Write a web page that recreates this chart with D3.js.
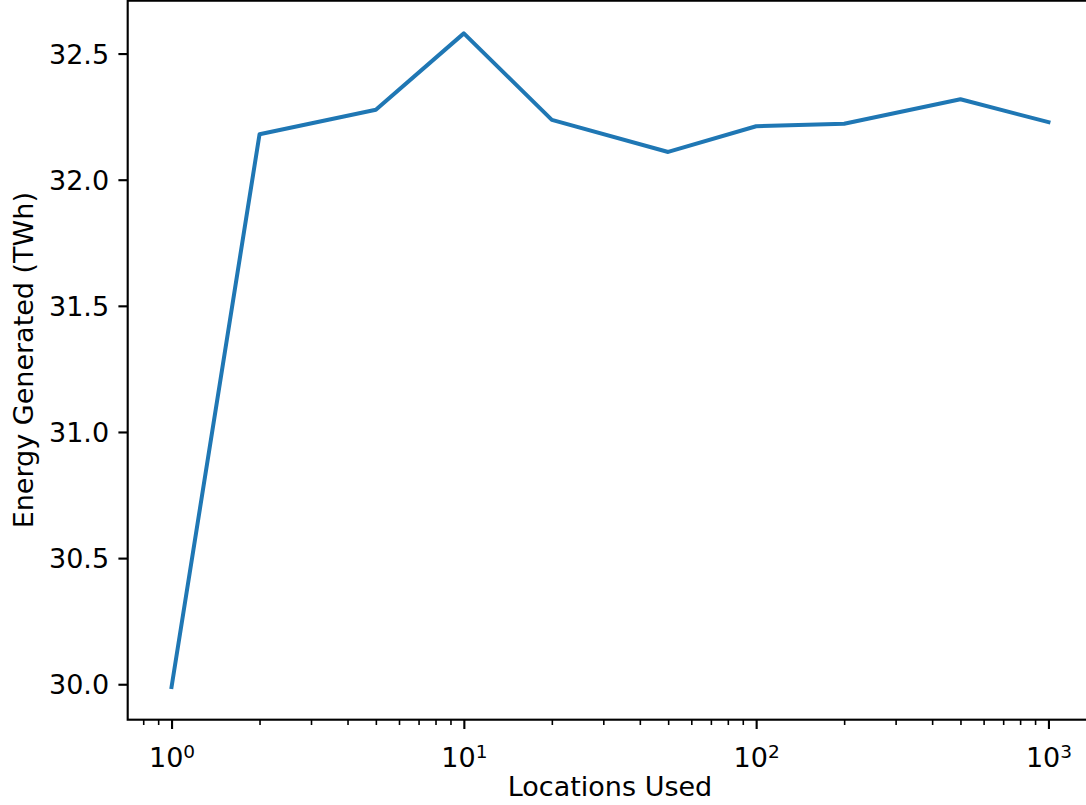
<!DOCTYPE html>
<html>
<head>
<meta charset="utf-8">
<script src="https://cdn.jsdelivr.net/npm/d3@7"></script>
<style>
  html, body { margin: 0; padding: 0; background: #fff; }
  svg { display: block; overflow: hidden; }
  text { font-family: "DejaVu Sans", sans-serif; fill: #000; }
</style>
</head>
<body>
<svg id="chart" width="1086" height="805"></svg>
<script>
// Energy generated as a function of the number of locations used
const locations = [1, 2, 5, 10, 20, 50, 100, 200, 500, 1000];
const energy = [29.989, 32.180, 32.277, 32.580, 32.237, 32.110, 32.212, 32.222, 32.319, 32.228];

const xMajorExponents = [0, 1, 2, 3];
const yTicks = [30.0, 30.5, 31.0, 31.5, 32.0, 32.5];

const xLabel = "Locations Used";
const yLabel = "Energy Generated (TWh)";

// layout (pixels)
const W = 1086, H = 805;
const plot = { left: 127.7, top: 0.7, right: 1092.3, bottom: 719.7 };
const fontSize = 27;
const supSize = 18.5;
const majorLen = 9.3, minorLen = 5.3, pad = 9.3;
const spineW = 2.13, majorW = 2.13, minorW = 1.6;
const lineColor = "#1f77b4";

// 5% margins around the data, as in the usual autoscale
const lx0 = Math.log10(d3.min(locations)), lx1 = Math.log10(d3.max(locations));
const lxm = (lx1 - lx0) * 0.05;
const [ymin, ymax] = d3.extent(energy);
const ym = (ymax - ymin) * 0.05;

const x = d3.scaleLog()
  .domain([Math.pow(10, lx0 - lxm), Math.pow(10, lx1 + lxm)])
  .range([plot.left, plot.right]);
const y = d3.scaleLinear()
  .domain([ymin - ym, ymax + ym])
  .range([plot.bottom, plot.top]);

const svg = d3.select("#chart");

// minor ticks: 2..9 of every decade inside the domain
const [dx0, dx1] = x.domain();
const minors = [];
for (let e = Math.floor(Math.log10(dx0)); e <= Math.ceil(Math.log10(dx1)); e++) {
  for (let m = 2; m <= 9; m++) {
    const v = m * Math.pow(10, e);
    if (v >= dx0 && v <= dx1) minors.push(v);
  }
}
const majors = xMajorExponents.map(e => Math.pow(10, e));

// data line
const line = d3.line()
  .x((d, i) => x(locations[i]))
  .y(d => y(d));
svg.append("path")
  .datum(energy)
  .attr("d", line)
  .attr("fill", "none")
  .attr("stroke", lineColor)
  .attr("stroke-width", 4)
  .attr("stroke-linejoin", "round")
  .attr("stroke-linecap", "square");

// x axis: minor ticks
const gxMinor = svg.append("g")
  .attr("transform", `translate(0,${plot.bottom})`)
  .call(d3.axisBottom(x).tickValues(minors).tickSize(minorLen).tickFormat(""));
gxMinor.select(".domain").remove();
gxMinor.selectAll("line").attr("stroke", "#000").attr("stroke-width", minorW);

// x axis: major ticks with 10^n labels
const gx = svg.append("g")
  .attr("transform", `translate(0,${plot.bottom})`)
  .call(d3.axisBottom(x).tickValues(majors).tickSize(majorLen).tickFormat(""));
gx.select(".domain").remove();
gx.selectAll("line").attr("stroke", "#000").attr("stroke-width", majorW);
gx.selectAll(".tick").each(function (d, i) {
  const t = d3.select(this).append("text")
    .attr("y", majorLen + pad + 29)
    .attr("text-anchor", "middle")
    .attr("font-size", fontSize)
    .attr("fill", "#000");
  t.append("tspan").text("10");
  t.append("tspan")
    .attr("font-size", supSize)
    .attr("dy", -9.3)
    .text(String(xMajorExponents[i]));
});

// y axis
const gy = svg.append("g")
  .attr("transform", `translate(${plot.left},0)`)
  .call(d3.axisLeft(y).tickValues(yTicks).tickSize(majorLen).tickPadding(pad)
    .tickFormat(d3.format(".1f")));
gy.select(".domain").remove();
gy.selectAll("line").attr("stroke", "#000").attr("stroke-width", majorW);
gy.selectAll("text")
  .attr("font-size", fontSize)
  .attr("font-family", "DejaVu Sans, sans-serif")
  .attr("fill", "#000")
  .attr("dy", null)
  .attr("dominant-baseline", "central");

// frame
svg.append("rect")
  .attr("x", plot.left).attr("y", plot.top)
  .attr("width", plot.right - plot.left)
  .attr("height", plot.bottom - plot.top)
  .attr("fill", "none")
  .attr("stroke", "#000")
  .attr("stroke-width", spineW);

// axis titles
svg.append("text")
  .attr("x", (plot.left + plot.right) / 2)
  .attr("y", 796)
  .attr("text-anchor", "middle")
  .attr("font-size", fontSize)
  .text(xLabel);

svg.append("text")
  .attr("transform", `translate(33.3,${(plot.top + plot.bottom) / 2}) rotate(-90)`)
  .attr("text-anchor", "middle")
  .attr("font-size", fontSize)
  .text(yLabel);
</script>
</body>
</html>
